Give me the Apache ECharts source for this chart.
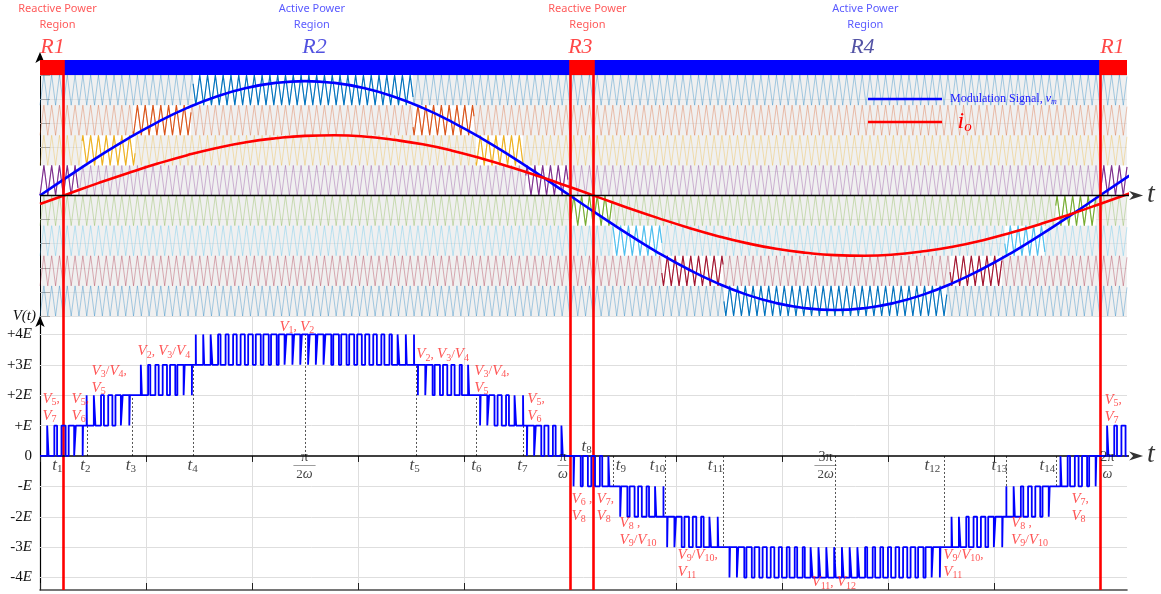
<!DOCTYPE html>
<html><head><meta charset="utf-8">
<script src="https://cdn.jsdelivr.net/npm/echarts@6/dist/echarts.min.js"></script>
<style>html,body{margin:0;padding:0;background:#fff}#c{width:1161px;height:594px}</style>
</head><body><div id="c"></div><script>
// ---------------- data (angle = ωt in degrees) ----------------
const ANGLES = [0,10,20,30,40,50,60,70,80,90,100,110,120,130,140,150,160,170,180,190,200,210,220,230,240,250,260,270,280,290,300,310,320,330,340,350,360,370];
const MODULATION = [0,0.66,1.30,1.90,2.44,2.91,3.29,3.57,3.74,3.80,3.74,3.57,3.29,2.91,2.44,1.90,1.30,0.66,0,-0.66,-1.30,-1.90,-2.44,-2.91,-3.29,-3.57,-3.74,-3.80,-3.74,-3.57,-3.29,-2.91,-2.44,-1.90,-1.30,-0.66,0,0.66];
const CURRENT = [-0.28,0.07,0.42,0.75,1.06,1.34,1.58,1.77,1.90,1.98,2.00,1.96,1.85,1.70,1.49,1.23,0.94,0.62,0.28,-0.07,-0.42,-0.75,-1.06,-1.34,-1.58,-1.77,-1.90,-1.98,-2.00,-1.96,-1.85,-1.70,-1.49,-1.23,-0.94,-0.62,-0.28,0.07];
const X_END = 369.2;
const CARRIER_PERIODS = 136;
const BAND_LOWER = [3,2,1,0,-1,-2,-3,-4];
const BAND_COLORS = ['#0072BD','#D95319','#EDB120','#7E2F8E','#77AC30','#4DBEEE','#A2142F','#0072BD'];
const BAND_ACTIVE = [
  [[52.0,126.7]],
  [[31.6,51.3],[126.7,147.4]],
  [[14.3,32.3],[148.1,164.0]],
  [[0,12.9],[165.0,179.3],[360.0,369.2]],
  [[180.3,194.3],[345.0,358.6]],
  [[194.6,211.2],[327.7,341.3]],
  [[211.2,232.0],[309.1,326.7]],
  [[232.3,308.0]]
];
const REGION_EDGES = [0,8,180,188,360,369.2];
const REGION_COLORS = ['#ff0000','#0000ff','#ff0000','#0000ff','#ff0000'];
const REGION_LINES = [8,180,188,360];
const REGION_NAMES = ['R1','R2','R3','R4','R1'];
const REGION_NAME_X = [4.4,93.4,183.7,279.5,364.4];
const REGION_NAME_COLORS = ['#ff1a1a','#2525d8','#ff1a1a','#28288f','#ff1a1a'];
const REGION_TITLE = ['Reactive Power\nRegion','Active Power\nRegion','Reactive Power\nRegion','Active Power\nRegion'];
const REGION_TITLE_X = [6.1,92.5,186.1,280.5];
const REGION_TITLE_COLORS = ['#ff3030','#3030ff','#ff3030','#3030ff'];
const LEVELS = [-4,-3,-2,-1,0,1,2,3,4];
const LEVEL_LABELS = ['-4E','-3E','-2E','-E','0','+E','+2E','+3E','+4E'];
const GRID_X = [0,36,72,108,144,180,216,252,288,324,360];
const T_MARK_X = [16,31.5,52.2,90,127.8,148.3,164.2,194.8,212.5,232,270,307,328.3,345];
const T_MARK_LEVEL = [1,2,3,4,3,2,1,-1,-2,-3,-4,-3,-2,-1];
const T_LABEL_TEXT = ['t1','t2','t3','t4','π/2ω','t5','t6','t7','π/ω','t8','t9','t10','t11','3π/2ω','t12','t13','t14','2π/ω'];
const T_LABEL_X = [6.1,15.6,31,52,90,127.4,148.4,164,177.8,185.8,197.5,209.9,229.6,267,303.3,326,342.3,362.7];
const T_LABEL_Y = [-0.33,-0.33,-0.33,-0.33,-0.36,-0.33,-0.33,-0.33,-0.36,0.3,-0.33,-0.33,-0.33,-0.36,-0.33,-0.33,-0.33,-0.36];
const V_LABEL_TEXT = ['V5,\nV7','V5,\nV6','V3/V4,\nV5','V2, V3/V4','V1, V2','V2, V3/V4','V3/V4,\nV5','V5,\nV6','V6 ,\nV8','V7,\nV8','V8 ,\nV9/V10','V9/V10,\nV11','V11, V12','V9/V10,\nV11','V8 ,\nV9/V10','V7,\nV8','V5,\nV7'];
const V_LABEL_X = [1.0,10.9,17.7,33.3,81.5,128,147.7,165.7,180.7,189.2,197,216.7,262.2,307,330,350.5,361.7];
const V_LABEL_Y = [1.58,1.58,2.5,3.42,4.24,3.32,2.5,1.58,-1.71,-1.71,-2.5,-3.55,-4.18,-3.55,-2.5,-1.71,1.55];

// ---------------- helpers ----------------
const SERIF = "'Liberation Serif','DejaVu Serif',serif";
const SANS = "'Noto Sans','DejaVu Sans',sans-serif";
const P = 360 / CARRIER_PERIODS;
function tri(t){ const u = ((t / P) % 1 + 1) % 1; return u < 0.5 ? 2 * u : 2 - 2 * u; }
function modAt(t){
  let i = Math.floor(t / 10); if (i > ANGLES.length - 2) i = ANGLES.length - 2;
  const f = (t - ANGLES[i]) / (ANGLES[i + 1] - ANGLES[i]);
  return MODULATION[i] + (MODULATION[i + 1] - MODULATION[i]) * f;
}
function levelAt(t){ const m = modAt(t), c = tri(t); let n = -4; for (const b of BAND_LOWER) if (m > b + c) n++; return n; }
function carrierPts(b, a, e){
  const pts = [[a, b + tri(a)]];
  for (let j = Math.floor(a / (P / 2)) + 1; j * P / 2 < e; j++) pts.push([j * P / 2, b + (j % 2)]);
  pts.push([e, b + tri(e)]);
  return pts;
}
// PWM output obtained by comparing the modulation signal with the level-shifted carriers
const pwm = []; { let prev = levelAt(0); pwm.push([0, prev]); const N = Math.round(X_END / 0.005);
  for (let k = 1; k <= N; k++){ const t = k * 0.005; const l = levelAt(t); if (l !== prev){ pwm.push([t, prev], [t, l]); prev = l; } }
  pwm.push([X_END, prev]); }

function vRich(s){ return s.replace(/V(\d+)/g, '{v|V}{s|$1}'); }
function tRich(s){
  if (s.includes('/')){ const [a, b] = s.split('/'); const den = b.replace('ω', '');
    return '{n|' + a + '}\n{l|' + (den ? '——' : '—') + '}\n' + (den ? '{d|' + den + '}' : '') + '{w|ω}'; }
  return s.replace(/t(\d+)/, '{t|t}{s|$1}');
}
const ARROW = 'path://M0,0L14,5L0,10L4,5Z';
const series = [];

// region bar
series.push({ type:'line', xAxisIndex:0, yAxisIndex:0, data:[[0,0]], showSymbol:false, lineStyle:{opacity:0}, silent:true,
  markArea:{ silent:true, data: REGION_COLORS.map((c,i)=>[{xAxis:REGION_EDGES[i], yAxis:4, itemStyle:{color:c, opacity:1}},{xAxis:REGION_EDGES[i+1], yAxis:4.5}]) } });

// carriers
BAND_LOWER.forEach((b, k) => {
  series.push({ type:'line', xAxisIndex:0, yAxisIndex:0, data: carrierPts(b, 0, X_END), showSymbol:false, silent:true, z:2,
    lineStyle:{color:BAND_COLORS[k], width:1, opacity:0.33},
    markArea:{ silent:true, data: BAND_ACTIVE[k].map(w=>[{xAxis:w[0], yAxis:b, itemStyle:{color:'#ffffff', opacity:1}},{xAxis:w[1], yAxis:b+1}]) } });
  const act = [];
  BAND_ACTIVE[k].forEach(w => { act.push(...carrierPts(b, w[0], w[1])); act.push([w[1], '-']); });
  series.push({ type:'line', xAxisIndex:0, yAxisIndex:0, data: act, showSymbol:false, silent:true, z:3, connectNulls:false,
    lineStyle:{color:BAND_COLORS[k], width:1.1} });
});

// modulation & current
series.push({ name:'vm', type:'line', xAxisIndex:0, yAxisIndex:0, data: ANGLES.map((a,i)=>[a, MODULATION[i]]), smooth:true, showSymbol:false, z:4,
  color:'#0000ff', lineStyle:{color:'#0000ff', width:2.6} });
series.push({ name:'io', type:'line', xAxisIndex:0, yAxisIndex:0, data: ANGLES.map((a,i)=>[a, CURRENT[i]]), smooth:true, showSymbol:false, z:4,
  color:'#ff0000', lineStyle:{color:'#ff0000', width:2.6} });

// zero (t) axes with arrows
[[0,0],[1,1]].forEach(([xi, yi]) => {
  series.push({ type:'line', xAxisIndex:xi, yAxisIndex:yi, data:[[0,0],[373,0]], clip:false, showSymbol:false, silent:true, z:5,
    lineStyle:{color:'#000', width:1.5} });
  series.push({ type:'scatter', xAxisIndex:xi, yAxisIndex:yi, data:[[372.3,0]], clip:false, symbol:ARROW, symbolSize:[14,9], silent:true, z:6,
    itemStyle:{color:'#000'} });
  series.push({ type:'scatter', xAxisIndex:xi, yAxisIndex:yi, data:[[376.2, yi ? 0.03 : 0.0]], clip:false, symbolSize:1, silent:true, z:6,
    itemStyle:{color:'rgba(0,0,0,0)'},
    label:{show:true, position:[0,0], align:'left', verticalAlign:'middle', formatter:'t', fontFamily:SERIF, fontStyle:'italic', fontSize:28, color:'#000'} });
});

// region titles (above the bar)
series.push({ type:'scatter', xAxisIndex:0, yAxisIndex:0, clip:false, symbolSize:1, silent:true, z:6, itemStyle:{color:'rgba(0,0,0,0)'},
  data: REGION_TITLE.map((t,i)=>({ value:[REGION_TITLE_X[i], 5.93], label:{ show:true, position:[0,0], align:'center', verticalAlign:'middle', formatter:t,
    fontFamily:SANS, fontSize:11, lineHeight:16, color:REGION_TITLE_COLORS[i] } })) });
series.push({ type:'scatter', xAxisIndex:0, yAxisIndex:0, clip:false, symbolSize:1, silent:true, z:6, itemStyle:{color:'rgba(0,0,0,0)'},
  data: REGION_NAMES.map((t,i)=>({ value:[REGION_NAME_X[i], 4.9], label:{ show:true, position:[0,0], align:'center', verticalAlign:'middle', formatter:t,
    fontFamily:SERIF, fontStyle:'italic', fontSize:22, color:REGION_NAME_COLORS[i] } })) });

// region boundary lines (both panels)
series.push({ type:'line', xAxisIndex:0, yAxisIndex:0, data:[[0,0]], showSymbol:false, lineStyle:{opacity:0}, silent:true,
  markLine:{ silent:true, symbol:'none', label:{show:false}, lineStyle:{color:'#ff0000', width:2.6, type:'solid'},
    data: REGION_LINES.map(x=>[{coord:[x,4.5]},{coord:[x,-4]}]) } });
series.push({ type:'line', xAxisIndex:1, yAxisIndex:1, data:[[0,0]], showSymbol:false, lineStyle:{opacity:0}, silent:true,
  markLine:{ silent:true, symbol:'none', label:{show:false}, lineStyle:{color:'#ff0000', width:2.6, type:'solid'},
    data: REGION_LINES.map(x=>[{coord:[x,4.605]},{coord:[x,-4.41]}]) } });

// bottom panel: horizontal grid lines and dotted t markers
series.push({ type:'line', xAxisIndex:1, yAxisIndex:1, data:[[0,0]], showSymbol:false, lineStyle:{opacity:0}, silent:true, z:1,
  markLine:{ silent:true, symbol:'none', label:{show:false}, z:1, lineStyle:{color:'#dedede', width:1, type:'solid'},
    data: LEVELS.filter(v=>v!==0).map(v=>[{coord:[0,v]},{coord:[X_END,v]}]) } });
series.push({ type:'line', xAxisIndex:1, yAxisIndex:1, data:[[0,0]], showSymbol:false, lineStyle:{opacity:0}, silent:true, z:2,
  markLine:{ silent:true, symbol:'none', label:{show:false}, lineStyle:{color:'#555', width:1, type:[2,2]},
    data: T_MARK_X.map((x,i)=>[{coord:[x,0]},{coord:[x,T_MARK_LEVEL[i]]}]) } });

// PWM output voltage
series.push({ type:'line', xAxisIndex:1, yAxisIndex:1, data: pwm, showSymbol:false, silent:true, z:6,
  lineStyle:{color:'#0000ff', width:1.8} });

// t labels
series.push({ type:'scatter', xAxisIndex:1, yAxisIndex:1, clip:false, symbolSize:1, silent:true, z:7, itemStyle:{color:'rgba(0,0,0,0)'},
  data: T_LABEL_TEXT.map((t,i)=>({ value:[T_LABEL_X[i], T_LABEL_Y[i]], label:{ show:true, position:[0,0], align:'center', verticalAlign:'middle',
    formatter: tRich(t), color:'#111', fontFamily:SERIF, fontSize:13,
    rich:{ t:{fontFamily:SERIF, fontStyle:'italic', fontSize:17, color:'#111'}, s:{fontFamily:SERIF, fontSize:11, color:'#111', padding:[8,0,0,0]},
      n:{fontFamily:SERIF, fontSize:14, lineHeight:11, color:'#111'}, l:{fontFamily:SERIF, fontSize:11, lineHeight:5, color:'#111'},
      d:{fontFamily:SERIF, fontSize:13, lineHeight:13, color:'#111'}, w:{fontFamily:SERIF, fontStyle:'italic', fontSize:14, lineHeight:13, color:'#111'} } } })) });

// V labels
series.push({ type:'scatter', xAxisIndex:1, yAxisIndex:1, clip:false, symbolSize:1, silent:true, z:7, itemStyle:{color:'rgba(0,0,0,0)'},
  data: V_LABEL_TEXT.map((t,i)=>({ value:[V_LABEL_X[i], V_LABEL_Y[i]], label:{ show:true, position:[0,0], align:'left', verticalAlign:'middle',
    formatter: vRich(t), color:'#ff2a2a', fontFamily:SERIF, fontSize:13, lineHeight:17,
    rich:{ v:{fontFamily:SERIF, fontStyle:'italic', fontSize:15, color:'#ff2a2a', lineHeight:17}, s:{fontFamily:SERIF, fontSize:10, color:'#ff2a2a', padding:[7,0,0,0]} } } })) });

const option = {
  animation:false,
  backgroundColor:'#ffffff',
  grid:[
    {left:40, right:34, top:60, height:256, show:true, backgroundColor:'#f0f0f0', borderWidth:0},
    {left:40, right:34, top:316, height:274}
  ],
  legend:[
    {data:['vm'], left:868, top:93, padding:0, itemWidth:74, itemHeight:2.6, icon:'rect', selectedMode:false,
      formatter:()=> ' Modulation Signal, {i|v}{s|m}',
      textStyle:{fontFamily:SERIF, fontSize:12, color:'#2020ff', rich:{i:{fontFamily:SERIF, fontStyle:'italic', fontSize:12, color:'#2020ff'}, s:{fontFamily:SERIF, fontStyle:'italic', fontSize:8, color:'#2020ff', padding:[5,0,0,0]}}}},
    {data:['io'], left:868, top:110, padding:0, itemWidth:74, itemHeight:2.6, icon:'rect', selectedMode:false,
      formatter:()=> '   {i|i}{s|o}',
      textStyle:{fontFamily:SERIF, fontSize:14, color:'#ff0000', rich:{i:{fontFamily:SERIF, fontStyle:'italic', fontSize:24, color:'#ff0000'}, s:{fontFamily:SERIF, fontStyle:'italic', fontSize:15, color:'#ff0000', padding:[11,0,0,0]}}}}
  ],
  xAxis:[
    {gridIndex:0, type:'value', min:0, max:X_END, show:false},
    {gridIndex:1, type:'value', min:0, max:X_END, interval:36, position:'bottom',
      axisLine:{show:true, onZero:false, lineStyle:{color:'#4a4a4a', width:1.6}},
      axisTick:{show:true, inside:true, length:7, customValues:GRID_X, lineStyle:{color:'#222', width:1}},
      axisLabel:{show:false},
      splitLine:{show:true, showMaxLine:false, lineStyle:{color:'#dedede', width:1}}},
    {gridIndex:1, type:'value', min:0, max:X_END, interval:36, position:'top',
      axisLine:{show:false}, axisTick:{show:true, inside:true, length:6, customValues:GRID_X, lineStyle:{color:'#222', width:1}},
      axisLabel:{show:false}, splitLine:{show:false}}
  ],
  yAxis:[
    {gridIndex:0, type:'value', min:-4, max:4.5, interval:0.8,
      axisLine:{show:true, onZero:false, symbol:['none','arrow'], symbolSize:[7,11], symbolOffset:[0,8], lineStyle:{color:'#000', width:1}},
      axisTick:{show:true, inside:true, length:10, lineStyle:{color:'#a8a8a8', width:1}},
      axisLabel:{show:false},
      splitLine:{show:true, showMaxLine:false, lineStyle:{color:'#e2e2e2', width:1}}},
    {gridIndex:1, type:'value', min:-4.41, max:4.605,
      name:'V(t)', nameLocation:'end', nameGap:0,
      nameTextStyle:{fontFamily:SERIF, fontStyle:'italic', fontSize:15, color:'#111', align:'right', verticalAlign:'middle', padding:[0,4,0,0]},
      axisLine:{show:true, onZero:false, symbol:['none','arrow'], symbolSize:[7,11], lineStyle:{color:'#000', width:1.2}},
      axisTick:{show:false},
      axisLabel:{show:true, customValues:LEVELS, margin:8, fontFamily:SERIF, fontSize:15, color:'#111',
        formatter:(v)=>{ const i = LEVELS.indexOf(Math.round(v)); return LEVEL_LABELS[i].replace('E','{i|E}'); },
        rich:{i:{fontFamily:SERIF, fontStyle:'italic', fontSize:15, color:'#111'}}},
      splitLine:{show:false}}
  ],
  series
};
const chart = echarts.init(document.getElementById('c'), null, {renderer:'canvas'});
chart.setOption(option);
</script></body></html>
